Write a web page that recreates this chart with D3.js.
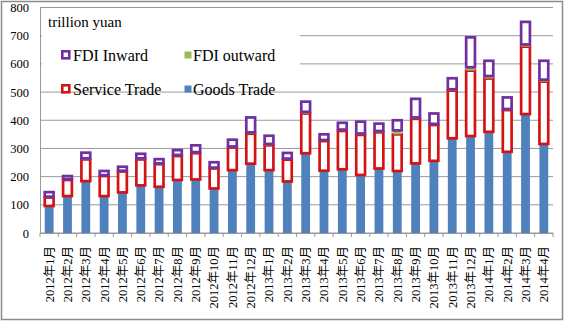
<!DOCTYPE html>
<html>
<head>
<meta charset="utf-8">
<script src="https://cdn.jsdelivr.net/npm/d3@7"></script>
<style>
	body { margin: 0; background: #fff; }
	svg text { font-family: "Liberation Serif", "Noto Sans CJK SC", serif; fill: #000; }
</style>
</head>
<body>
<figure style="margin:0"><svg></svg></figure>
<script>
// monthly flows, trillion yuan
const months = ['2012年1月', '2012年2月', '2012年3月', '2012年4月', '2012年5月', '2012年6月', '2012年7月',
	'2012年8月', '2012年9月', '2012年10月', '2012年11月', '2012年12月', '2013年1月', '2013年2月',
	'2013年3月', '2013年4月', '2013年5月', '2013年6月', '2013年7月', '2013年8月', '2013年9月',
	'2013年10月', '2013年11月', '2013年12月', '2014年1月', '2014年2月', '2014年3月', '2014年4月'];
const goodsTrade = [96, 131, 184, 131, 144, 169, 164, 188, 190, 158, 223, 246, 223, 183,
	283, 221, 226, 206, 229, 220, 247, 256, 336, 344, 359, 288, 422, 316];
const serviceTrade = [30, 57, 77, 71, 74, 92, 80, 85, 93, 71, 80, 106, 88, 77,
	141, 105, 136, 142, 128, 130, 158, 127, 169, 232, 189, 148, 239, 221];
const fdiOutward = [3, 3, 4, 3, 3, 4, 3, 4, 4, 3, 4, 5, 5, 4,
	6, 4, 5, 5, 5, 14, 5, 4, 5, 12, 9, 4, 8, 7];
const fdiInward = [16, 11, 20, 15, 14, 16, 15, 17, 24, 19, 24, 53, 29, 20,
	36, 20, 24, 42, 26, 36, 66, 37, 39, 106, 54, 41, 80, 67];
const yTicks = [0, 100, 200, 300, 400, 500, 600, 700, 800];

const keys = ['goods', 'service', 'outward', 'inward'];
const rows = months.map((m, i) => ({
	month: m,
	goods: goodsTrade[i],
	service: serviceTrade[i],
	outward: fdiOutward[i],
	inward: fdiInward[i]
}));

const colors = {goods: '#4f81bd', service: '#d41414', outward: '#9bbb59', inward: '#7030a0'};
const outlined = k => k === 'service' || k === 'inward';

const W = 566, H = 322;
const plot = {left: 40, right: 553, top: 7.5, bottom: 233};

const $svg = d3.select('svg').attr('width', W).attr('height', H);

// outer frame
$svg.append('rect')
	.attr('x', 1.5).attr('y', 1.5)
	.attr('width', 561).attr('height', 318)
	.attr('fill', '#fff')
	.attr('stroke', '#8c8c8c')
	.attr('stroke-width', 1.5);

const scaleX = d3.scaleBand()
	.domain(months)
	.range([plot.left, plot.right])
	.paddingInner(0.52)
	.paddingOuter(0.26);

const scaleY = d3.scaleLinear()
	.domain([0, 800])
	.range([plot.bottom, plot.top]);

// gridlines
$svg.append('g')
	.selectAll('line')
	.data(yTicks)
	.join('line')
	.attr('x1', plot.left).attr('x2', plot.right)
	.attr('y1', d => scaleY(d)).attr('y2', d => scaleY(d))
	.attr('stroke', '#9a9a9a')
	.attr('stroke-width', 1);

// y axis
const $yAxis = $svg.append('g')
	.attr('transform', 'translate(' + plot.left + ',0)')
	.call(d3.axisLeft(scaleY).tickValues(yTicks).tickSize(0).tickPadding(11));
$yAxis.select('.domain').attr('stroke', '#9a9a9a');
$yAxis.selectAll('text').style('font-size', '12.5px');

// stacked bars
const stacked = d3.stack().keys(keys)(rows);
const bw = scaleX.bandwidth();

const $layers = $svg.append('g')
	.selectAll('g')
	.data(stacked)
	.join('g')
	.attr('class', d => 'layer ' + d.key);

$layers.selectAll('rect')
	.data(d => d.map(p => ({key: d.key, p: p})))
	.join('rect')
	.attr('x', d => scaleX(d.p.data.month))
	.attr('y', d => scaleY(d.p[1]))
	.attr('width', bw)
	.attr('height', d => scaleY(d.p[0]) - scaleY(d.p[1]))
	.attr('fill', d => outlined(d.key) ? '#fff' : colors[d.key])
	.attr('stroke', d => outlined(d.key) ? colors[d.key] : 'none')
	.attr('stroke-width', 2.7);

// x axis with ticks between categories
const $xAxis = $svg.append('g')
	.attr('transform', 'translate(0,' + plot.bottom + ')')
	.call(d3.axisBottom(scaleX).tickSize(0).tickPadding(0));
$xAxis.select('.domain').attr('stroke', '#9a9a9a');
$xAxis.selectAll('.tick text')
	.attr('transform', 'rotate(-90)')
	.attr('text-anchor', 'end')
	.attr('x', -13)
	.attr('y', 0)
	.attr('dy', '0.35em')
	.style('font-size', '12.5px');

const step = scaleX.step();
$xAxis.selectAll('.sep')
	.data(d3.range(months.length + 1))
	.join('line')
	.attr('class', 'sep')
	.attr('x1', i => plot.left + i * step).attr('x2', i => plot.left + i * step)
	.attr('y1', 0).attr('y2', 4)
	.attr('stroke', '#9a9a9a');

// legend
const $legend = $svg.append('g');
$legend.append('rect')
	.attr('x', 42).attr('y', 9.5)
	.attr('width', 258).attr('height', 78)
	.attr('fill', '#fff');

$legend.append('text')
	.attr('x', 48).attr('y', 27)
	.style('font-size', '15px')
	.text('trillion yuan');

const legendItems = [
	{key: 'inward', label: 'FDI Inward', x: 61, y: 50},
	{key: 'outward', label: 'FDI outward', x: 184, y: 50},
	{key: 'service', label: 'Service Trade', x: 61, y: 84},
	{key: 'goods', label: 'Goods Trade', x: 184, y: 84}
];

const $items = $legend.selectAll('.item')
	.data(legendItems)
	.join('g')
	.attr('class', 'item')
	.attr('transform', d => 'translate(' + d.x + ',' + d.y + ')');

$items.append('rect')
	.attr('x', d => outlined(d.key) ? 1.3 : 0.5)
	.attr('y', d => outlined(d.key) ? 1.3 : 1.5)
	.attr('width', d => outlined(d.key) ? 7 : 7)
	.attr('height', d => outlined(d.key) ? 7 : 7)
	.attr('fill', d => outlined(d.key) ? '#fff' : colors[d.key])
	.attr('stroke', d => outlined(d.key) ? colors[d.key] : 'none')
	.attr('stroke-width', 2.6);

$items.append('text')
	.attr('x', d => outlined(d.key) ? 12 : 9)
	.attr('y', 10.5)
	.style('font-size', '16px')
	.text(d => d.label);
</script>
</body>
</html>
